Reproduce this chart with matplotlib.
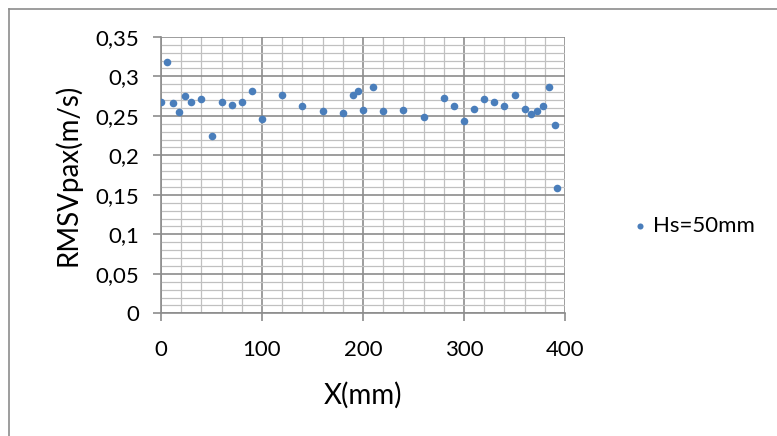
import matplotlib
matplotlib.use("Agg")
import matplotlib.pyplot as plt
import matplotlib.ticker as ticker
from matplotlib.lines import Line2D

# Position along the model (mm) and measured RMS velocity (m/s)
x_mm = [0, 6, 12, 18, 24, 30, 40, 50, 60, 70, 80, 90, 100, 120, 140, 160,
        180, 190, 195, 200, 210, 220, 240, 260, 280, 290, 300, 310, 320, 330,
        340, 350, 360, 366, 372, 378, 384, 390, 392.5]
rms_vpax = [0.267, 0.318, 0.266, 0.255, 0.275, 0.267, 0.271, 0.225, 0.268,
            0.264, 0.268, 0.281, 0.246, 0.276, 0.263, 0.256, 0.253, 0.276,
            0.282, 0.257, 0.286, 0.256, 0.257, 0.249, 0.272, 0.263, 0.243,
            0.258, 0.271, 0.267, 0.263, 0.276, 0.258, 0.252, 0.256, 0.263,
            0.287, 0.238, 0.159]
series_label = "Hs=50mm"

BLUE = "#4a7ebb"
MAJOR_GRID = "#8c8c8c"
MINOR_GRID = "#c0c0c0"

plt.rcParams["font.family"] = ["Lato", "DejaVu Sans"]

fig = plt.figure(figsize=(7.77, 4.36), dpi=100)
fig.patch.set_facecolor("white")
ax = fig.add_axes([161 / 777, 1 - 313.3 / 436, 404 / 777, (313.3 - 36.8) / 436])

ax.scatter(x_mm, rms_vpax, s=30, color=BLUE, zorder=3, label=series_label,
           linewidths=0)

ax.set_xlim(0, 400)
ax.set_ylim(0, 0.35)
ax.xaxis.set_major_locator(ticker.MultipleLocator(100))
ax.xaxis.set_minor_locator(ticker.MultipleLocator(20))
ax.yaxis.set_major_locator(ticker.MultipleLocator(0.05))
ax.yaxis.set_minor_locator(ticker.MultipleLocator(0.01))


def comma_fmt(v, _pos):
    s = f"{v:.2f}".rstrip("0").rstrip(".")
    return s.replace(".", ",")


ax.yaxis.set_major_formatter(ticker.FuncFormatter(comma_fmt))

ax.grid(which="major", color=MAJOR_GRID, linewidth=1.2, zorder=1)
ax.grid(which="minor", color=MINOR_GRID, linewidth=0.9, zorder=0)
ax.set_axisbelow(True)

for side in ("top", "right"):
    ax.spines[side].set_visible(False)
for side in ("left", "bottom"):
    ax.spines[side].set_color(MAJOR_GRID)
    ax.spines[side].set_linewidth(1.2)

ax.tick_params(which="major", length=6, width=1.2, color=MAJOR_GRID,
               labelsize=16, pad=10, labelcolor="black")
ax.tick_params(axis="x", which="major", pad=13)
ax.tick_params(which="minor", length=0)

ax.set_xlabel("X(mm)", fontsize=20, labelpad=16)
ax.set_ylabel("RMSVpax(m/s)", fontsize=20, labelpad=10)

ax.legend(loc="center left", bbox_to_anchor=(633 / 777, 1 - 226 / 436),
          bbox_transform=fig.transFigure, frameon=False, fontsize=16,
          handlelength=0.6, handletextpad=0.3, markerscale=0.8,
          borderpad=0, borderaxespad=0)

# chart-area border (only left and top edges fall inside the image)
fig.add_artist(Line2D([8.5 / 777, 8.5 / 777], [0, 1 - 9.5 / 436],
                      transform=fig.transFigure, color="#8c8c8c", linewidth=1.2))
fig.add_artist(Line2D([8.5 / 777, 1], [1 - 9.5 / 436, 1 - 9.5 / 436],
                      transform=fig.transFigure, color="#8c8c8c", linewidth=1.2))

fig.savefig("out.png", dpi=100, facecolor="white")
